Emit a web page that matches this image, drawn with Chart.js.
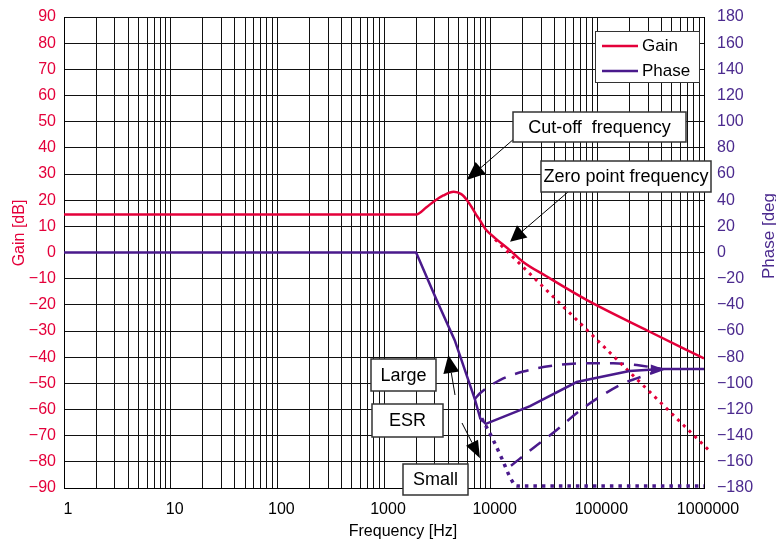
<!DOCTYPE html>
<html>
<head>
<meta charset="utf-8">
<script src="https://cdn.jsdelivr.net/npm/chart.js@4.4.1/dist/chart.umd.min.js"></script>
<style>
    html, body { margin: 0; padding: 0; background: #fff; }
    canvas { display: block; }
</style>
</head>
<body>
<canvas id="bodeChart" width="776" height="543"></canvas>
<script>
// Ganancia (curva continua)
const gainFreq = [1, 2000, 2500, 3000, 3600, 4500, 5300, 6000, 6600, 7300, 7900, 9000, 11000, 15000, 20000, 33000, 80000, 300000, 1000000];
const gainDb = [14.5, 14.5, 17.3, 19.8, 21.8, 23.2, 22.3, 20, 17.5, 14.5, 12.4, 8.8, 5.5, 1.0, -3.5, -9, -18.2, -30, -40.5];

// Ganancia con ESR pequeña (punteada)
const gainSmallFreq = [11000, 1140000];
const gainSmallDb = [5, -76];

// Fase (curva continua)
const phaseFreq = [1, 2000, 3100, 4600, 7100, 8000, 9000, 23400, 64000, 110000, 200000, 400000, 1000000];
const phaseDeg = [0, 0, -36, -67, -112, -127, -131, -117.5, -99, -95, -90.5, -89, -89];

// Fase con ESR grande (discontinua)
const phaseLargeFreq = [7100, 7940, 12200, 20200, 38600, 74000, 141000, 234000, 400000];
const phaseLargeDeg = [-112, -107.6, -97.5, -91, -86.5, -84.7, -84.7, -86, -89];

// Fase intermedia (discontinua, termina en flecha)
const phaseMidFreq = [15500, 26000, 41600, 66300, 106000, 175000, 234000, 420000];
const phaseMidDeg = [-163, -148.4, -135.7, -121.7, -110.2, -100, -96.2, -89];

// Fase con ESR pequeña (punteada)
const phaseSmallFreq = [8240, 10200, 12700, 15700, 17500, 1000000];
const phaseSmallDeg = [-126.7, -140.8, -157.3, -174, -178.5, -178.5];

// Ejes
const freqDecades = [1, 10, 100, 1000, 10000, 100000, 1000000];
const gainMin = -90, gainMax = 90, gainStep = 10;
const phaseMin = -180, phaseMax = 180, phaseStep = 20;

const legendLabels = ['Gain', 'Phase'];
const boxNotes = [
    { text: 'Cut-off  frequency', box: [513, 112, 173, 30] },
    { text: 'Zero point frequency', box: [541, 161, 170, 31] },
    { text: 'Large', box: [371, 359, 65, 32] },
    { text: 'ESR', box: [372, 404, 71, 33] },
    { text: 'Small', box: [403, 464, 65, 31] }
];
// Flechas: punta en coordenadas de datos, origen en píxeles
const arrowNotes = [
    { axis: 'y', f: 5960, v: 27.7, from: [515, 138], len: 18.5, half: 7.7 },
    { axis: 'y', f: 15200, v: 4.1, from: [568, 192], len: 16, half: 8 },
    { axis: 'y2', f: 4010, v: -78.3, from: [455, 395], len: 18, half: 8 },
    { axis: 'y2', f: 7940, v: -157.3, from: [462, 423], len: 17.5, half: 6.7 }
];

const RED = '#e4003a';
const PURPLE = '#4a1a8c';
const PURPLE_TEXT = '#4b2a8e';
const FONT = '"Liberation Sans", Arial, Helvetica, sans-serif';

function toPoints(xs, ys) {
    return xs.map((x, i) => ({ x: x, y: ys[i] }));
}

// Líneas de la rejilla logarítmica (1..9 por década)
let freqGrid = [];
for (let d = 0; d < freqDecades.length - 1; d++) {
    for (let m = 1; m <= 9; m++) {
        freqGrid.push(freqDecades[d] * m);
    }
}
freqGrid.push(freqDecades[freqDecades.length - 1]);

function minusSign(v) {
    return v < 0 ? '\u2212' + Math.abs(v) : String(v);
}

function drawArrow(ctx, x1, y1, x2, y2, len, half) {
    const a = Math.atan2(y2 - y1, x2 - x1);
    const bx = x2 - len * Math.cos(a);
    const by = y2 - len * Math.sin(a);
    ctx.strokeStyle = '#000';
    ctx.fillStyle = '#000';
    ctx.lineWidth = 1;
    ctx.beginPath();
    ctx.moveTo(x1, y1);
    ctx.lineTo(bx, by);
    ctx.stroke();
    ctx.beginPath();
    ctx.moveTo(x2, y2);
    ctx.lineTo(bx + half * Math.sin(a), by - half * Math.cos(a));
    ctx.lineTo(bx - half * Math.sin(a), by + half * Math.cos(a));
    ctx.closePath();
    ctx.fill();
}

// Quitar el relleno extra que el eje reserva para sus etiquetas
function fixPadding(scale) {
    scale.paddingTop = 0;
    scale.paddingBottom = 0;
    scale.paddingLeft = 0;
    scale.paddingRight = 0;
}

// Plugin para títulos, leyenda y anotaciones
const extrasPlugin = {
    id: 'extras',
    afterDraw(chart) {
        const ctx = chart.ctx;
        const xs = chart.scales.x;
        ctx.save();

        // Títulos de los ejes
        ctx.font = '16px ' + FONT;
        ctx.textBaseline = 'alphabetic';
        ctx.textAlign = 'center';
        ctx.fillStyle = '#000';
        ctx.fillText('Frequency [Hz]', 403, 536);

        ctx.save();
        ctx.translate(24, 233);
        ctx.rotate(-Math.PI / 2);
        ctx.fillStyle = RED;
        ctx.fillText('Gain [dB]', 0, 0);
        ctx.restore();

        ctx.save();
        ctx.translate(774, 236);
        ctx.rotate(-Math.PI / 2);
        ctx.font = '17px ' + FONT;
        ctx.fillStyle = PURPLE_TEXT;
        ctx.fillText('Phase [deg', 0, 0);
        ctx.restore();

        // Flecha al final de la curva intermedia
        const last = phaseMidFreq.length - 1;
        const tx = xs.getPixelForValue(phaseMidFreq[last]);
        const ty = chart.scales.y2.getPixelForValue(phaseMidDeg[last]);
        ctx.fillStyle = PURPLE;
        ctx.beginPath();
        ctx.moveTo(tx, ty);
        ctx.lineTo(tx - 13, ty - 4.5);
        ctx.lineTo(tx - 13, ty + 4.5);
        ctx.closePath();
        ctx.fill();

        // Leyenda
        ctx.fillStyle = '#fff';
        ctx.fillRect(595, 31, 105, 52);
        ctx.strokeStyle = '#333';
        ctx.lineWidth = 1;
        ctx.strokeRect(595.5, 31.5, 104, 51);
        const legendColors = [RED, PURPLE];
        for (let i = 0; i < legendLabels.length; i++) {
            const ly = 46 + i * 25;
            ctx.strokeStyle = legendColors[i];
            ctx.lineWidth = 2.5;
            ctx.beginPath();
            ctx.moveTo(602, ly);
            ctx.lineTo(638, ly);
            ctx.stroke();
            ctx.fillStyle = '#000';
            ctx.font = '17px ' + FONT;
            ctx.textAlign = 'left';
            ctx.textBaseline = 'middle';
            ctx.fillText(legendLabels[i], 642, ly);
        }

        // Flechas de las anotaciones
        arrowNotes.forEach(a => {
            const px = xs.getPixelForValue(a.f);
            const py = chart.scales[a.axis].getPixelForValue(a.v);
            drawArrow(ctx, a.from[0], a.from[1], px, py, a.len, a.half);
        });

        // Cajas de texto
        boxNotes.forEach(n => {
            const [bx, by, bw, bh] = n.box;
            ctx.fillStyle = '#fff';
            ctx.fillRect(bx, by, bw, bh);
            ctx.strokeStyle = '#333';
            ctx.lineWidth = 1.5;
            ctx.strokeRect(bx, by, bw, bh);
            ctx.fillStyle = '#000';
            ctx.font = '18px ' + FONT;
            ctx.textAlign = 'center';
            ctx.textBaseline = 'middle';
            ctx.fillText(n.text, bx + bw / 2, by + bh / 2 + 1);
        });

        ctx.restore();
    }
};

const ctx = document.getElementById('bodeChart').getContext('2d');
const chart = new Chart(ctx, {
    type: 'line',
    data: {
        datasets: [
            {
                label: 'Gain',
                data: toPoints(gainFreq, gainDb),
                yAxisID: 'y',
                borderColor: RED,
                borderWidth: 2.5,
                cubicInterpolationMode: 'monotone',
                pointRadius: 0
            },
            {
                label: 'Phase',
                data: toPoints(phaseFreq, phaseDeg),
                yAxisID: 'y2',
                borderColor: PURPLE,
                borderWidth: 2.5,
                tension: 0,
                pointRadius: 0
            },
            {
                label: 'Gain (small ESR)',
                data: toPoints(gainSmallFreq, gainSmallDb),
                yAxisID: 'y',
                borderColor: RED,
                borderWidth: 3,
                borderDash: [3, 5],
                clip: false,
                pointRadius: 0
            },
            {
                label: 'Phase (large ESR)',
                data: toPoints(phaseLargeFreq, phaseLargeDeg),
                yAxisID: 'y2',
                borderColor: PURPLE,
                borderWidth: 2.5,
                borderDash: [14, 10],
                cubicInterpolationMode: 'monotone',
                pointRadius: 0
            },
            {
                label: 'Phase (mid ESR)',
                data: toPoints(phaseMidFreq, phaseMidDeg),
                yAxisID: 'y2',
                borderColor: PURPLE,
                borderWidth: 2.5,
                borderDash: [14, 10],
                cubicInterpolationMode: 'monotone',
                pointRadius: 0
            },
            {
                label: 'Phase (small ESR)',
                data: toPoints(phaseSmallFreq, phaseSmallDeg),
                yAxisID: 'y2',
                borderColor: PURPLE,
                borderWidth: 3.5,
                borderDash: [3.5, 5],
                cubicInterpolationMode: 'monotone',
                pointRadius: 0
            }
        ]
    },
    options: {
        responsive: false,
        animation: false,
        layout: { padding: { top: 17, left: 0, right: 0, bottom: 0 } },
        plugins: {
            legend: { display: false },
            tooltip: { enabled: false }
        },
        scales: {
            x: {
                type: 'logarithmic',
                min: 1,
                max: 1000000,
                afterBuildTicks: (scale) => {
                    scale.ticks = freqGrid.map(v => ({ value: v }));
                },
                afterFit: (scale) => { scale.height = 55; fixPadding(scale); },
                grid: { color: '#111', lineWidth: 1, drawTicks: false },
                border: { display: true, color: '#000', width: 1 },
                ticks: {
                    autoSkip: false,
                    maxRotation: 0,
                    minRotation: 0,
                    padding: 12,
                    labelOffset: 4,
                    color: '#000',
                    font: { family: FONT, size: 16 },
                    callback: (v) => freqDecades.includes(v) ? String(v) : ''
                }
            },
            y: {
                position: 'left',
                min: gainMin,
                max: gainMax,
                afterFit: (scale) => { scale.width = 64; fixPadding(scale); },
                grid: { color: '#111', lineWidth: 1, drawTicks: false },
                border: { display: true, color: '#000', width: 1 },
                ticks: {
                    stepSize: gainStep,
                    padding: 8,
                    color: RED,
                    font: { family: FONT, size: 16 },
                    callback: (v) => minusSign(v)
                }
            },
            y2: {
                position: 'right',
                min: phaseMin,
                max: phaseMax,
                afterFit: (scale) => { scale.width = 72; fixPadding(scale); },
                grid: { display: false, drawTicks: false },
                border: { display: true, color: '#000', width: 1 },
                ticks: {
                    stepSize: phaseStep,
                    padding: 13,
                    color: PURPLE_TEXT,
                    font: { family: FONT, size: 16 },
                    callback: (v) => minusSign(v)
                }
            }
        }
    },
    plugins: [extrasPlugin]
});
</script>
</body>
</html>
